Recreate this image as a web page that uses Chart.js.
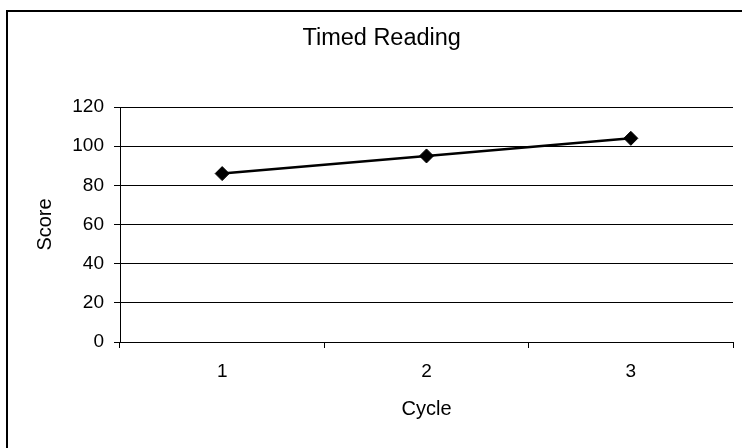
<!DOCTYPE html>
<html>
<head>
<meta charset="utf-8">
<title>Timed Reading</title>
<script src="https://cdn.jsdelivr.net/npm/chart.js@4/dist/chart.umd.min.js"></script>
<style>
  html, body { margin: 0; padding: 0; background: #fff; overflow: hidden; }
  canvas { display: block; }
</style>
</head>
<body>
<canvas id="chart" width="742" height="448"></canvas>
<script>
// Reading scores per test cycle
const categories = ['1', '2', '3'];
const scores = [86, 95, 104];
const yTickValues = [0, 20, 40, 60, 80, 100, 120];

Chart.defaults.font.family = '"Liberation Sans", Arial, sans-serif';
Chart.defaults.color = '#000';

// Thin frame around the whole chart (left and top edges fall inside the canvas)
const chartFrame = {
  id: 'chartFrame',
  afterDraw(chart) {
    const ctx = chart.ctx;
    ctx.save();
    ctx.strokeStyle = '#000';
    ctx.lineWidth = 2;
    ctx.beginPath();
    ctx.moveTo(7, chart.height + 10);
    ctx.lineTo(7, 11);
    ctx.lineTo(chart.width + 10, 11);
    ctx.stroke();
    ctx.restore();
  }
};

new Chart(document.getElementById('chart'), {
  type: 'line',
  data: {
    labels: categories,
    datasets: [{
      label: 'Score',
      data: scores,
      borderColor: '#000',
      borderWidth: 2.5,
      backgroundColor: '#000',
      pointStyle: 'rectRot',
      pointRadius: 7,
      pointHoverRadius: 7,
      pointBorderWidth: 1,
      pointBorderColor: '#000',
      pointBackgroundColor: '#000',
      tension: 0,
      fill: false
    }]
  },
  options: {
    responsive: false,
    animation: false,
    devicePixelRatio: 1,
    layout: { padding: { left: 30.4, right: 9, top: 0, bottom: 0 } },
    plugins: {
      legend: { display: false },
      tooltip: { enabled: false },
      title: {
        display: true,
        text: 'Timed Reading',
        color: '#000',
        font: { size: 23.5, weight: 'normal' },
        padding: { top: 24.4, bottom: 54.4 }
      }
    },
    scales: {
      x: {
        type: 'category',
        offset: true,
        grid: {
          offset: true,
          drawOnChartArea: false,
          drawTicks: true,
          tickLength: 6,
          color: '#000',
          lineWidth: 1
        },
        border: { display: true, color: '#000', width: 1 },
        ticks: { color: '#000', font: { size: 19 }, padding: 12.4, maxRotation: 0 },
        title: {
          display: true,
          text: 'Cycle',
          color: '#000',
          font: { size: 20 },
          padding: { top: 0, bottom: 26.2 }
        },
        afterFit(scale) { scale.height = 106; }
      },
      y: {
        min: 0,
        max: 120,
        afterBuildTicks(scale) {
          scale.ticks = yTickValues.map(v => ({ value: v }));
        },
        grid: {
          color: '#000',
          lineWidth: 1,
          drawTicks: true,
          tickLength: 6
        },
        border: { display: true, color: '#000', width: 1 },
        ticks: { color: '#000', font: { size: 19 }, padding: 10 },
        title: {
          display: true,
          text: 'Score',
          color: '#000',
          font: { size: 20 },
          padding: { top: 3.1, bottom: 0 }
        },
        afterFit(scale) { scale.width = 89.6; }
      }
    }
  },
  plugins: [chartFrame]
});
</script>
</body>
</html>
